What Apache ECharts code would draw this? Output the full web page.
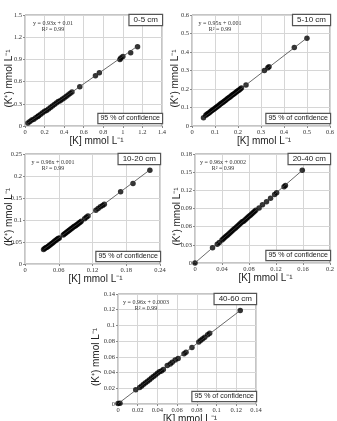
<!DOCTYPE html>
<html>
<head>
<meta charset="utf-8">
<script src="https://cdn.jsdelivr.net/npm/echarts@6/dist/echarts.min.js"></script>
<style>
  html, body { margin: 0; background: #fff; }
  #chart { width: 337px; height: 421px; }
</style>
</head>
<body>
<div id="chart"></div>
<script>
// depth labels and fit equations
const depths = ['0-5 cm', '5-10 cm', '10-20 cm', '20-40 cm', '40-60 cm']
const equations = ['y = 0.93x + 0.01', 'y = 0.95x + 0.001', 'y = 0.96x + 0.001', 'y = 0.96x + 0.0002', 'y = 0.96x + 0.0003']
const r2Labels = ['R² = 0.99', 'R² = 0.99', 'R² = 0.99', 'R² = 0.99', 'R² = 0.99']

// 0-5 cm
const k05x = [0.03, 0.05, 0.07, 0.09, 0.11, 0.13, 0.14, 0.16, 0.18, 0.2, 0.22, 0.24, 0.26, 0.28, 0.3, 0.32, 0.34, 0.36, 0.38, 0.4, 0.42, 0.44, 0.46, 0.48, 0.56, 0.72, 0.76, 0.97, 0.98, 1.0, 1.08, 1.15]
const k05y = [0.04, 0.06, 0.08, 0.09, 0.11, 0.13, 0.14, 0.16, 0.18, 0.2, 0.21, 0.23, 0.25, 0.27, 0.29, 0.31, 0.33, 0.34, 0.36, 0.38, 0.4, 0.42, 0.44, 0.46, 0.53, 0.68, 0.72, 0.9, 0.92, 0.94, 0.99, 1.07]
const fit05x = [0.03, 1.15]
const fit05y = [0.04, 1.08]

// 5-10 cm
const k510x = [0.05, 0.06, 0.065, 0.07, 0.075, 0.08, 0.085, 0.09, 0.095, 0.1, 0.105, 0.11, 0.115, 0.12, 0.125, 0.13, 0.135, 0.14, 0.145, 0.15, 0.155, 0.16, 0.165, 0.17, 0.175, 0.18, 0.185, 0.19, 0.195, 0.2, 0.205, 0.21, 0.215, 0.235, 0.315, 0.33, 0.335, 0.445, 0.5]
const k510y = [0.045, 0.058, 0.063, 0.067, 0.072, 0.077, 0.082, 0.086, 0.091, 0.096, 0.1, 0.105, 0.11, 0.115, 0.12, 0.124, 0.129, 0.134, 0.138, 0.143, 0.148, 0.153, 0.157, 0.162, 0.167, 0.172, 0.176, 0.181, 0.186, 0.191, 0.195, 0.2, 0.205, 0.222, 0.3, 0.315, 0.32, 0.425, 0.475]
const fit510x = [0.05, 0.5]
const fit510y = [0.045, 0.476]

// 10-20 cm
const k1020x = [0.033, 0.035, 0.037, 0.039, 0.041, 0.043, 0.045, 0.047, 0.049, 0.051, 0.053, 0.055, 0.057, 0.059, 0.061, 0.068, 0.07, 0.072, 0.074, 0.076, 0.078, 0.08, 0.082, 0.084, 0.086, 0.088, 0.09, 0.092, 0.094, 0.096, 0.098, 0.1, 0.106, 0.109, 0.112, 0.126, 0.13, 0.134, 0.138, 0.141, 0.17, 0.192, 0.222]
const k1020y = [0.033, 0.035, 0.037, 0.038, 0.04, 0.042, 0.044, 0.046, 0.048, 0.05, 0.052, 0.054, 0.056, 0.058, 0.059, 0.066, 0.068, 0.07, 0.072, 0.074, 0.076, 0.078, 0.08, 0.082, 0.084, 0.086, 0.087, 0.089, 0.091, 0.093, 0.095, 0.097, 0.103, 0.106, 0.109, 0.122, 0.126, 0.13, 0.133, 0.136, 0.164, 0.183, 0.213]
const fit1020x = [0.033, 0.222]
const fit1020y = [0.033, 0.214]

// 20-40 cm
const k2040x = [0, 0.026, 0.033, 0.036, 0.04, 0.042, 0.044, 0.046, 0.048, 0.05, 0.052, 0.054, 0.056, 0.058, 0.06, 0.062, 0.064, 0.066, 0.068, 0.07, 0.072, 0.074, 0.076, 0.078, 0.08, 0.082, 0.084, 0.086, 0.088, 0.09, 0.095, 0.1, 0.106, 0.112, 0.118, 0.121, 0.132, 0.134, 0.159]
const k2040y = [0, 0.025, 0.031, 0.034, 0.038, 0.04, 0.042, 0.044, 0.046, 0.048, 0.05, 0.052, 0.054, 0.056, 0.058, 0.06, 0.062, 0.064, 0.066, 0.068, 0.069, 0.071, 0.073, 0.075, 0.077, 0.079, 0.081, 0.083, 0.085, 0.087, 0.091, 0.096, 0.101, 0.107, 0.113, 0.116, 0.126, 0.128, 0.153]
const fit2040x = [0, 0.159]
const fit2040y = [0.0002, 0.153]

// 40-60 cm
const k4060x = [0, 0.002, 0.018, 0.022, 0.024, 0.026, 0.028, 0.03, 0.032, 0.034, 0.036, 0.038, 0.04, 0.042, 0.044, 0.046, 0.05, 0.053, 0.055, 0.058, 0.061, 0.067, 0.069, 0.075, 0.082, 0.084, 0.086, 0.088, 0.091, 0.093, 0.124]
const k4060y = [0.0005, 0.001, 0.018, 0.021, 0.023, 0.025, 0.027, 0.029, 0.031, 0.033, 0.035, 0.037, 0.039, 0.041, 0.042, 0.044, 0.049, 0.051, 0.053, 0.056, 0.058, 0.064, 0.066, 0.072, 0.079, 0.081, 0.083, 0.085, 0.088, 0.09, 0.119]
const fit4060x = [0, 0.124]
const fit4060y = [0.0003, 0.119]

// axis ticks
const xMax = [1.4, 0.6, 0.24, 0.2, 0.14]
const xStep = [0.2, 0.1, 0.06, 0.04, 0.02]
const yMax = [1.5, 0.6, 0.25, 0.18, 0.14]
const yStep = [0.3, 0.1, 0.05, 0.03, 0.02]

const pointsX = [k05x, k510x, k1020x, k2040x, k4060x]
const pointsY = [k05y, k510y, k1020y, k2040y, k4060y]
const fitX = [fit05x, fit510x, fit1020x, fit2040x, fit4060x]
const fitY = [fit05y, fit510y, fit1020y, fit2040y, fit4060y]

const boxes = [
  { left: 25, top: 15, width: 137, height: 111 },
  { left: 192, top: 15, width: 138, height: 111 },
  { left: 25, top: 154, width: 135, height: 110 },
  { left: 195, top: 154, width: 135, height: 109 },
  { left: 118, top: 294, width: 138, height: 110 }
]
// distance of the rotated y name from the plot's left edge
const nameGapY = [16, 17, 16, 18, 22]

const sans = 'Liberation Sans, Arial, sans-serif'
const serif = 'Liberation Serif, Times New Roman, serif'

const zip = (xs, ys) => xs.map((x, i) => [x, ys[i]])

const grid = []
const xAxis = []
const yAxis = []
const series = []
const graphic = []

boxes.forEach((b, i) => {
  grid.push({ ...b, show: true, borderColor: '#8a8a8a', borderWidth: 1, backgroundColor: '#fff' })
  const axisCommon = {
    type: 'value',
    gridIndex: i,
    min: 0,
    axisLine: { show: false },
    axisTick: { show: true, length: 2, lineStyle: { color: '#888' } },
    axisLabel: { fontSize: 6.5, fontFamily: serif, color: '#333', margin: 3 },
    splitLine: { show: true, lineStyle: { color: '#d6d6d6', width: 1 } }
  }
  xAxis.push({ ...axisCommon, max: xMax[i], interval: xStep[i] })
  yAxis.push({ ...axisCommon, max: yMax[i], interval: yStep[i] })
  series.push({
    type: 'line',
    xAxisIndex: i,
    yAxisIndex: i,
    data: zip(fitX[i], fitY[i]),
    symbol: 'none',
    lineStyle: { color: '#444', width: 0.8 },
    silent: true
  })
  series.push({
    type: 'scatter',
    xAxisIndex: i,
    yAxisIndex: i,
    data: zip(pointsX[i], pointsY[i]),
    symbolSize: 5.5,
    itemStyle: { color: '#000' }
  })

  const right = b.left + b.width
  const bottom = b.top + b.height
  // equation
  graphic.push({
    type: 'text', x: b.left + 28, y: b.top + 8, z: 100,
    style: { text: equations[i], font: '6px ' + serif, fill: '#333', align: 'center', verticalAlign: 'middle' }
  })
  graphic.push({
    type: 'text', x: b.left + 28, y: b.top + 14, z: 100,
    style: { text: r2Labels[i], font: '6px ' + serif, fill: '#333', align: 'center', verticalAlign: 'middle' }
  })
  // depth box
  graphic.push({
    type: 'text', x: right, y: b.top, z: 100,
    style: {
      text: depths[i], font: '8px ' + sans, fill: '#222', align: 'right', verticalAlign: 'top',
      backgroundColor: '#fff', borderColor: '#555', borderWidth: 1.2, padding: [1, 4, 1, 4]
    }
  })
  // confidence box
  graphic.push({
    type: 'text', x: right, y: bottom - 3, z: 100,
    style: {
      text: '95 % of confidence', font: '7px ' + sans, fill: '#222', align: 'right', verticalAlign: 'bottom',
      backgroundColor: '#fff', borderColor: '#555', borderWidth: 1.2, padding: [1, 2, 1, 2]
    }
  })
  // axis names
  graphic.push({
    type: 'text', x: b.left + b.width / 2 + 3, y: bottom + 15, z: 100,
    style: { text: '[K] mmol L⁻¹', font: '10px ' + sans, fill: '#222', align: 'center', verticalAlign: 'middle' }
  })
  graphic.push({
    type: 'text', x: b.left - nameGapY[i], y: b.top + b.height / 2 + 8, rotation: Math.PI / 2, z: 100,
    style: { text: '(K⁺) mmol L⁻¹', font: '10px ' + sans, fill: '#222', align: 'center', verticalAlign: 'middle' }
  })
})

const myChart = echarts.init(document.getElementById('chart'), null, { renderer: 'canvas' })
const option = {
  animation: false,
  grid,
  xAxis,
  yAxis,
  series,
  graphic
}
option && myChart.setOption(option)
</script>
</body>
</html>
